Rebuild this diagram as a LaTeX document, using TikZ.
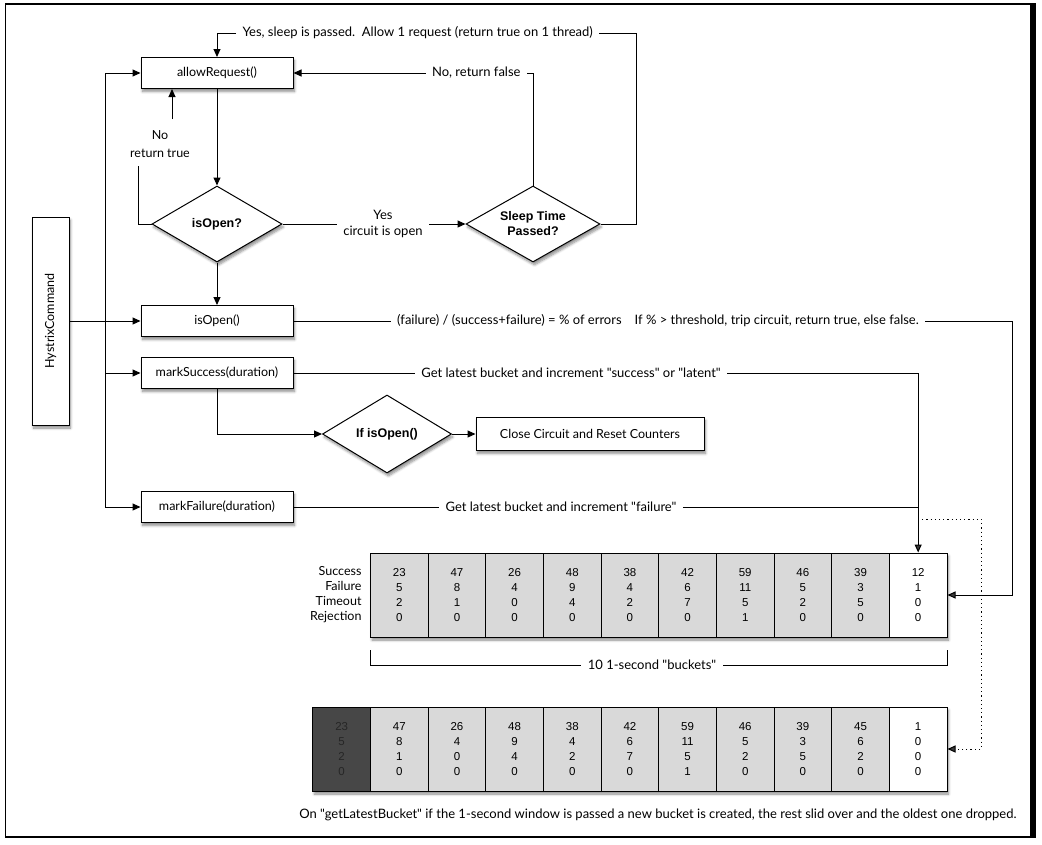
\documentclass[tikz,border=0pt]{standalone}
\usepackage{fontspec}
\setmainfont{Lato}
\newfontfamily\gill{Lato}
\newfontfamily\helv{Liberation Sans}
\usetikzlibrary{arrows.meta,shapes.geometric,shadows.blur}
\definecolor{bk}{HTML}{D9D9D9}
\definecolor{wh}{HTML}{FFFFFF}
\definecolor{dk}{HTML}{474747}
\definecolor{dktx}{HTML}{262626}
\begin{document}
\begin{tikzpicture}[x=1pt,y=-1pt,line width=1pt,
  >={Triangle[length=8pt,width=7pt]},
  shadowed/.style={blur shadow={shadow blur steps=6,shadow xshift=1.5pt,shadow yshift=-3pt,shadow opacity=45,shadow blur radius=2.5pt}},
  pbox/.style={draw,fill=white,shadowed,minimum width=152pt,minimum height=31pt,inner sep=0pt,font=\gill\fontsize{12.5}{14}\selectfont},
  dia/.style={draw,fill=white,shadowed,diamond,shape aspect=1.7,inner sep=0pt,minimum width=130pt,minimum height=76pt,align=center,font=\helv\bfseries\fontsize{12.5}{15}\selectfont},
  lbl/.style={inner sep=6pt,font=\gill\fontsize{13}{16}\selectfont},
  bucket/.style={draw,minimum width=57.65pt,minimum height=84pt,inner sep=0pt,align=center,font=\helv\fontsize{11.5}{15}\selectfont},
  rowshadow/.style={fill=white,shadowed}
]
\useasboundingbox (0,0) rectangle (1042,844);
% frame
\draw[line width=2.5pt] (5,4) -- (1033,4);
\draw[line width=2.5pt] (5,837) -- (1033,837);
\draw[line width=1.5pt] (5.5,4) -- (5.5,837);
\fill (1030,3) rectangle (1036,838);

% boxes
\node[pbox] (allow) at (217,73) {allowRequest()};
\node[pbox] (isopen) at (217,321) {isOpen()};
\node[pbox] (msucc) at (217,373) {markSuccess(duration)};
\node[pbox] (mfail) at (217,507) {markFailure(duration)};
\node[draw,fill=white,shadowed,minimum width=37pt,minimum height=208pt,inner sep=0pt,font=\gill\fontsize{12.5}{14}\selectfont] (hystrix) at (50.5,321) {\rotatebox{90}{HystrixCommand}};

% diamonds
\node[dia] (isq) at (217,224) {isOpen?};
\node[dia,minimum width=134pt] (sleep) at (533,224) {Sleep Time\\Passed?};
\node[dia,minimum width=129pt,minimum height=78pt] (ifo) at (387,434) {If isOpen()};
\node[pbox,minimum width=228pt,minimum height=33pt] (close) at (590,434) {Close Circuit and Reset Counters};

% top loop
\node[lbl,anchor=west] (ttop) at (236,33) {Yes, sleep is passed.\ \ Allow 1 request (return true on 1 thread)};
\draw[->] (ttop.west) -| (allow.north);
\coordinate (cr) at (636,224);
\draw (sleep.east) -- (cr) |- (ttop.east);

\node[lbl,anchor=east] (tnofalse) at (527,73) {No, return false};
\draw[->] (tnofalse.west) -- (allow.east);
\draw (sleep.north) |- (tnofalse.east);

\node[align=center,inner sep=0pt,font=\gill\fontsize{12.5}{18}\selectfont] (tnotrue) at (160,144) {No\\return true};
\coordinate (nta) at (172,119);
\draw[->] (nta) -- (nta |- allow.south);
\coordinate (nrl) at (138,166);
\draw (isq.west) -| (nrl);

\node[lbl,align=center] (tyes) at (383,224) {Yes\\circuit is open};
\draw (isq.east) -- (tyes.west);
\draw[->] (tyes.east) -- (sleep.west);

\draw[->] (allow.south) -- (isq.north);
\draw[->] (isq.south) -- (isopen.north);

% left vertical bus
\coordinate (ltop) at (105,73);
\coordinate (lbot) at (105,507);
\draw (ltop) -- (lbot);
\draw[->] (ltop) -- (allow.west);
\draw[->] (ltop |- msucc.west) -- (msucc.west);
\draw[->] (lbot) -- (mfail.west);
\draw[->] (hystrix.east) -- (isopen.west);

% success branch
\draw[->] (msucc.south) |- (ifo.west);
\draw[->] (ifo.east) -- (close.west);

% bucket rows
\fill[rowshadow] (370.5,553) rectangle (947,637);
\foreach \va/\vb/\vc/\vd/\vf/\vg [count=\i] in {23/5/2/0/bk/black,47/8/1/0/bk/black,26/4/0/0/bk/black,48/9/4/0/bk/black,38/4/2/0/bk/black,42/6/7/0/bk/black,59/11/5/1/bk/black,46/5/2/0/bk/black,39/3/5/0/bk/black,12/1/0/0/wh/black}
  \node[bucket,fill=\vf,text=\vg] (r1b\i) at ({370.5+57.65*(\i-0.5)},595) {\va\\\vb\\\vc\\\vd};
\fill[rowshadow] (312.85,707) rectangle (947,791);
\foreach \va/\vb/\vc/\vd/\vf/\vg [count=\i] in {23/5/2/0/dk/dktx,47/8/1/0/bk/black,26/4/0/0/bk/black,48/9/4/0/bk/black,38/4/2/0/bk/black,42/6/7/0/bk/black,59/11/5/1/bk/black,46/5/2/0/bk/black,39/3/5/0/bk/black,45/6/2/0/bk/black,1/0/0/0/wh/black}
  \node[bucket,fill=\vf,text=\vg] (r2b\i) at ({312.85+57.65*(\i-0.5)},749) {\va\\\vb\\\vc\\\vd};

\node[anchor=east,align=right,inner sep=0pt,font=\gill\fontsize{12.5}{15}\selectfont] (rowlbl) at (362,595) {Success\\Failure\\Timeout\\Rejection};

% error computation line
\node[lbl] (terr) at (658,321) {(failure) / (success+failure) = \% of errors\quad If \% > threshold, trip circuit, return true, else false.};
\draw (isopen.east) -- (terr.west);
\coordinate (rr) at (1012,321);
\draw[->] (terr.east) -- (rr) |- (r1b10.east);

% success / failure lines
\node[lbl] (tsucc) at (571,373) {Get latest bucket and increment "success" or "latent"};
\draw (msucc.east) -- (tsucc.west);
\draw[->] (tsucc.east) -| (r1b10.north);
\node[lbl] (tfail) at (561,507) {Get latest bucket and increment "failure"};
\draw (mfail.east) -- (tfail.west);
\draw (tfail.east) -- (tfail.east -| r1b10.north);

% dotted
\coordinate (dA) at (918,519);
\coordinate (dB) at (981,519);
\draw[dash pattern=on 1.2pt off 3pt,->] (dA) -- (dB) |- (r2b11.east);

% bracket
\coordinate (bl) at (370.5,650);
\coordinate (br) at (947,650);
\node[lbl] (t10) at (652,665) {10 1-second "buckets"};
\draw[line width=0.6pt] (bl) |- (t10.west);
\draw[line width=0.6pt] (br) |- (t10.east);

\node[lbl,anchor=east] (tbot) at (1023,815) {On "getLatestBucket" if the 1-second window is passed a new bucket is created, the rest slid over and the oldest one dropped.};
\end{tikzpicture}
\end{document}
